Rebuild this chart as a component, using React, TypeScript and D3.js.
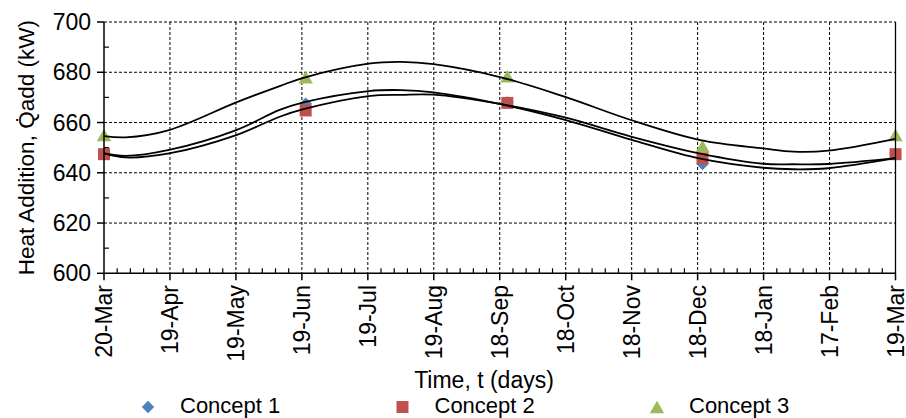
import * as d3 from "d3";

// tick labels along the year (equal spacing, 12 intervals)
const tickLabels = [
  "20-Mar", "19-Apr", "19-May", "19-Jun", "19-Jul", "19-Aug", "18-Sep",
  "18-Oct", "18-Nov", "18-Dec", "18-Jan", "17-Feb", "19-Mar",
];
const yTicks = [600, 620, 640, 660, 680, 700];

// measured points (day of year counted from 20-Mar)
const sampleDays = [0, 93, 186, 276, 365];
const concept1 = [647.5, 667.5, 668.0, 643.5, 647.5];
const concept2 = [647.4, 664.8, 667.8, 645.8, 647.4];
const concept3 = [655.0, 678.0, 678.4, 650.5, 655.0];

// trend curves
const fitDays = [0, 10, 30, 61, 81, 92, 122, 137, 152, 183, 213, 243, 275, 304, 318, 334, 365];
const fit1 = [647.7, 646.7, 649.1, 657.0, 665.0, 668.0, 672.5, 672.9, 672.0, 667.3, 661.0, 653.2, 645.6, 642.0, 641.4, 641.8, 645.8];
const fit2 = [647.7, 646.1, 647.7, 655.0, 662.3, 665.3, 670.5, 671.0, 671.1, 667.3, 661.9, 654.4, 647.6, 643.6, 643.4, 643.5, 645.8];
const fit3 = [654.6, 654.1, 657.0, 668.0, 674.5, 677.8, 683.4, 684.1, 683.2, 678.0, 670.1, 661.0, 653.0, 649.7, 648.4, 648.8, 653.5];

const seriesNames = ["Concept 1", "Concept 2", "Concept 3"];
const colors = ["#4F81BD", "#C0504D", "#9BBB59"];

const W = 906;
const H = 418;
const left = 104;
const right = 895.5;
const top = 22;
const bottom = 273.3;
const font = "'Liberation Sans', Arial, sans-serif";

const x = d3.scaleLinear().domain([0, 365]).range([left, right]);
const y = d3.scaleLinear().domain([600, 700]).range([bottom, top]);

const diamond = d3.symbol(d3.symbolDiamond2, 100)()!;
const square = d3.symbol(d3.symbolSquare, 144)()!;
const triangle = d3.symbol(d3.symbolTriangle, 90)()!;
const shapes = [diamond, square, triangle];
const shapeDy = [0, 0, 2];

const line = d3
  .line<[number, number]>()
  .x((d) => x(d[0]))
  .y((d) => y(d[1]))
  .curve(d3.curveCatmullRom.alpha(0.5));

export default function App() {
  const step = 365 / (tickLabels.length - 1);
  const majorX = tickLabels.map((_, i) => i * step);
  const minorX: number[] = [];
  majorX.slice(0, -1).forEach((d) => {
    for (let k = 1; k < 5; k++) minorX.push(d + (k * step) / 5);
  });
  const minorY = d3.range(610, 700, 20);

  const allSeries = [concept1, concept2, concept3];
  const fits = [fit1, fit2, fit3];
  const legendX = [148, 402.5, 657];

  return (
    <svg
      width={W}
      height={H}
      style={{ position: "absolute", left: 0, top: 0, background: "#fff" }}
      fontFamily={font}
    >
      {/* grid */}
      <g stroke="#000" strokeWidth={1} strokeDasharray="3,2">
        {yTicks.slice(1).map((v) => (
          <line key={v} x1={left} x2={right} y1={y(v)} y2={y(v)} />
        ))}
        {majorX.slice(1, -1).map((d) => (
          <line key={d} x1={x(d)} x2={x(d)} y1={top} y2={bottom} />
        ))}
      </g>

      {/* markers */}
      {allSeries.map((vals, s) => (
        <g key={s} fill={colors[s]}>
          {vals.map((v, i) => (
            <path
              key={i}
              d={shapes[s]}
              transform={`translate(${x(sampleDays[i])},${y(v) + shapeDy[s]})`}
            />
          ))}
        </g>
      ))}

      {/* trend curves */}
      {fits.map((f, s) => (
        <path
          key={s}
          d={line(fitDays.map((d, i) => [d, f[i]] as [number, number]))!}
          fill="none"
          stroke="#000"
          strokeWidth={1.8}
        />
      ))}

      {/* axes */}
      <g stroke="#000" strokeWidth={1.5}>
        <line x1={left} x2={left} y1={top} y2={bottom} />
        <line x1={left} x2={right} y1={bottom} y2={bottom} />
        <line x1={right} x2={right} y1={top} y2={bottom} strokeWidth={1.3} />
        {yTicks.map((v) => (
          <line key={v} x1={left - 7} x2={left} y1={y(v)} y2={y(v)} />
        ))}
        {minorY.map((v) => (
          <line key={v} x1={left} x2={left + 5} y1={y(v)} y2={y(v)} strokeWidth={1.2} />
        ))}
        {majorX.map((d) => (
          <line key={d} x1={x(d)} x2={x(d)} y1={bottom} y2={bottom + 7} />
        ))}
        {minorX.map((d) => (
          <line key={d} x1={x(d)} x2={x(d)} y1={bottom - 5} y2={bottom} strokeWidth={1.2} />
        ))}
      </g>

      {/* y tick labels */}
      {yTicks.map((v) => (
        <text
          key={v}
          x={91}
          y={y(v)}
          textAnchor="end"
          dominantBaseline="central"
          fontSize={23}
          fill="#000"
        >
          {v}
        </text>
      ))}

      {/* x tick labels */}
      {tickLabels.map((t, i) => (
        <text
          key={t + i}
          transform={`translate(${x(majorX[i])},${285}) rotate(-90)`}
          textAnchor="end"
          dominantBaseline="central"
          fontSize={23}
          fill="#000"
        >
          {t}
        </text>
      ))}

      {/* axis titles */}
      <text
        transform={`translate(34,${(top + bottom) / 2}) rotate(-90)`}
        textAnchor="middle"
        fontSize={22.5}
        fill="#000"
      >
        Heat Addition, Q&#x0307;add (kW)
      </text>
      <text x={484} y={388} textAnchor="middle" fontSize={23} fill="#000">
        Time, t (days)
      </text>

      {/* legend */}
      {seriesNames.map((n, s) => (
        <g key={n}>
          <path
            d={shapes[s]}
            fill={colors[s]}
            transform={`translate(${legendX[s]},${407 + shapeDy[s]})`}
          />
          <text x={legendX[s] + 32} y={413} fontSize={22} fill="#000">
            {n}
          </text>
        </g>
      ))}
    </svg>
  );
}
